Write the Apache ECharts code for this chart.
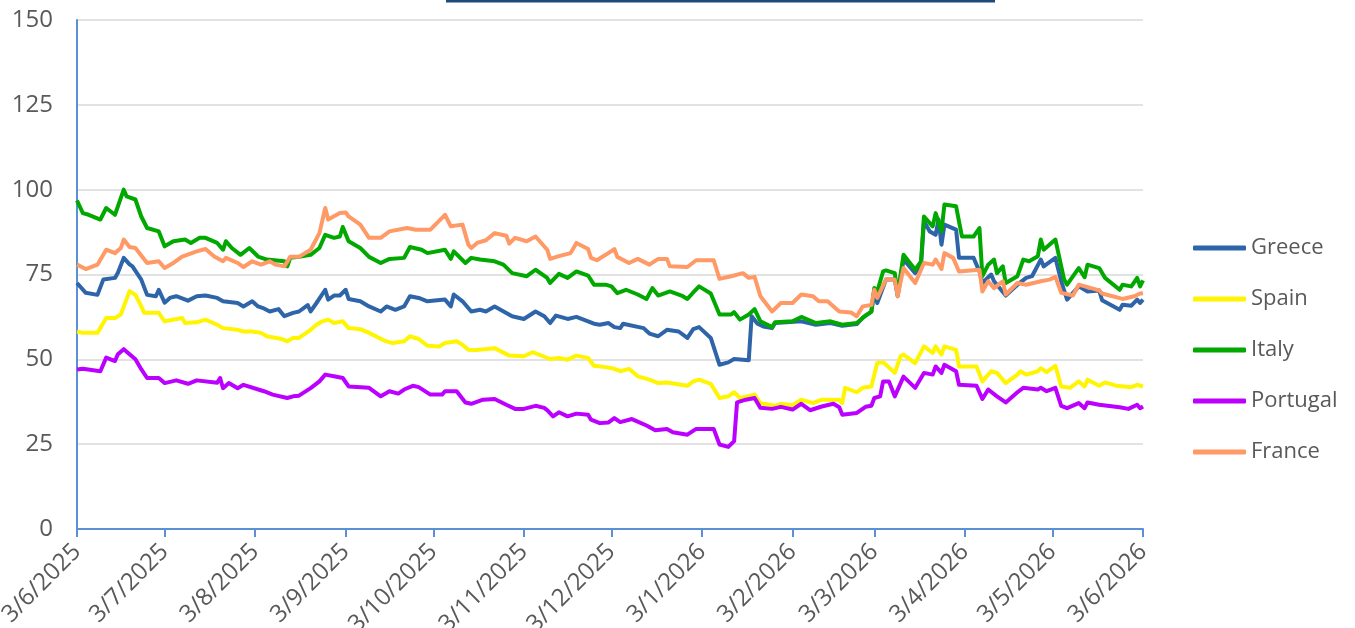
<!DOCTYPE html>
<html>
<head>
<meta charset="utf-8">
<title>Bond yields</title>
<script src="https://cdn.jsdelivr.net/npm/echarts@6/dist/echarts.min.js"></script>
<style>
    html, body { margin: 0; padding: 0; background: #ffffff; }
    #chart { width: 1355px; height: 628px; }
</style>
</head>
<body>
<div id="chart"></div>
<script>
// First day of the series (3 June 2025), values are keyed by day offset from it
const START = Date.UTC(2025, 5, 3);
const DAY = 86400000;

// Day offsets of the monthly axis labels (the 3rd of each month)
const tickDays = [0, 30, 61, 92, 122, 153, 183, 214, 245, 273, 304, 334, 365];

const seriesNames = ['Greece', 'Spain', 'Italy', 'Portugal', 'France'];
const seriesColors = ['#2E64A8', '#FFF500', '#00A800', '#BB00FF', '#FF9966'];

// [day offset, value]
const greece = [[0,72.5],[3,69.6],[7,69],[9,73.5],[13,74],[14,75.5],[16,79.9],[18,78],[19,77.4],[22,73.5],[24,69],[27,68.6],[28,70.5],[30,66.7],[32,68.2],[34,68.6],[38,67.3],[41,68.6],[44,68.8],[48,68.1],[50,67.1],[55,66.6],[57,65.6],[60,67.1],[62,65.6],[64,65],[66,64.1],[69,64.8],[71,62.7],[74,63.7],[76,64.1],[79,66],[80,64.1],[82,66.6],[85,70.5],[86,67.6],[88,68.8],[90,68.8],[92,70.5],[93,67.8],[97,67.1],[100,65.6],[104,64.1],[106,65.6],[109,64.6],[112,65.6],[114,68.6],[117,68.1],[120,67.1],[126,67.6],[128,65.6],[129,69.1],[132,67.1],[135,64.1],[138,64.6],[140,64.1],[143,65.6],[149,62.7],[153,61.9],[157,64.1],[160,62.7],[162,60.7],[164,62.9],[168,61.9],[171,62.5],[175,61.2],[177,60.5],[179,60.2],[182,60.7],[184,59.5],[186,59.2],[187,60.5],[194,59.2],[196,57.6],[199,56.8],[202,58.7],[206,58.2],[209,56.3],[211,58.9],[213,59.5],[217,56.3],[220,48.4],[223,49.1],[225,50.1],[230,49.7],[231,62.7],[233,60.5],[235,59.7],[238,59.2],[239,60.7],[248,61.2],[253,60.2],[258,60.7],[262,59.9],[267,60.4],[269,62.2],[272,64.1],[273,70.5],[274,66.6],[277,73.5],[280,73.5],[281,68.6],[283,79.4],[287,75.4],[289,77.9],[290,90.7],[292,87.7],[294,86.7],[295,91.2],[296,83.8],[297,89.7],[301,88.2],[302,79.9],[307,79.9],[309,75.9],[310,72.5],[313,75],[314,73],[318,68.8],[322,72],[325,74],[327,74.5],[330,79.4],[331,77.4],[335,79.9],[337,73],[339,67.6],[343,71.5],[346,70],[350,70.3],[351,67.4],[357,64.6],[358,66.1],[361,65.8],[363,67.6],[364,66.6],[365,67.6]];

const spain = [[0,58.2],[2,57.8],[7,57.8],[10,62.2],[13,62.2],[15,63.2],[18,70.1],[20,69],[22,65.6],[23,63.7],[28,63.7],[30,61.2],[36,62.2],[37,60.7],[41,60.9],[44,61.7],[48,60.2],[50,59.2],[55,58.7],[57,58.2],[60,58.2],[63,57.8],[65,56.8],[70,56],[72,55.3],[74,56.3],[76,56.3],[80,58.7],[82,60.2],[84,61.2],[86,61.7],[88,60.7],[91,61.2],[93,59.2],[97,58.9],[100,57.8],[105,55.6],[108,54.8],[112,55.3],[114,56.8],[117,56],[120,54],[124,53.8],[126,54.8],[130,55.3],[132,54.3],[134,52.8],[136,52.7],[143,53.3],[148,51.1],[153,50.9],[156,52.1],[162,50.1],[165,50.4],[168,49.9],[171,51.1],[175,50.4],[177,48.1],[181,47.7],[184,47.2],[186,46.5],[189,47.2],[192,45],[196,44],[199,43],[202,43.2],[209,42.2],[211,43.5],[213,44],[217,42.8],[220,38.6],[223,39.1],[225,40.3],[227,38.6],[232,39.6],[234,37.1],[239,36.3],[241,36.9],[245,36.5],[248,38.1],[252,37.1],[255,38.1],[261,38.1],[262,37.1],[263,41.6],[267,40.3],[269,41.6],[272,42],[273,45.5],[274,48.9],[276,49.1],[277,48.4],[280,46],[282,50.9],[283,51.4],[287,48.9],[290,53.8],[293,51.9],[294,53.8],[296,51.4],[297,53.8],[301,52.8],[302,47.9],[308,47.9],[310,43.5],[313,46.5],[315,46],[318,43],[322,45.5],[323,46.5],[325,45.5],[329,46.5],[330,47.4],[332,46.2],[335,48.1],[337,42],[340,41.6],[343,43.5],[345,42],[346,44],[350,42.2],[352,43.2],[356,42.2],[361,41.8],[363,42.5],[365,42]];

const italy = [[0,96.8],[2,93.1],[4,92.6],[8,91.2],[10,94.6],[13,92.6],[14,95.1],[16,100],[17,98],[20,97.1],[22,92.1],[24,88.7],[28,87.7],[30,83.3],[33,84.8],[37,85.3],[39,84.3],[42,85.8],[44,85.8],[48,84.3],[50,82.3],[51,84.8],[53,82.8],[56,80.8],[59,82.8],[62,80.3],[65,79.4],[71,78.9],[72,77.4],[73,79.9],[76,80.2],[80,80.8],[83,82.8],[85,86.7],[88,85.8],[90,86.2],[91,89],[93,84.8],[97,82.8],[100,80.2],[104,78.4],[107,79.6],[112,79.9],[114,83.1],[118,82.3],[120,81.3],[126,82.3],[128,79.6],[129,81.8],[133,78.4],[135,79.9],[138,79.4],[143,78.9],[146,77.9],[149,75.4],[154,74.5],[157,76.4],[161,74],[162,72.5],[165,75.2],[168,74],[171,75.9],[175,74.7],[177,72],[181,72],[183,71.5],[185,69.5],[188,70.5],[192,69.1],[195,67.8],[197,71],[199,68.8],[203,70],[207,68.8],[209,67.8],[211,69.7],[213,71.5],[217,69.4],[220,63.2],[224,63.2],[225,63.9],[227,61.7],[230,63.2],[232,64.8],[234,61.2],[238,59.5],[239,60.9],[245,61.2],[248,62.5],[253,60.7],[258,61.2],[262,60.2],[267,60.7],[270,62.9],[272,64],[273,71],[274,70],[276,75.9],[277,76.2],[280,75.4],[281,69.1],[283,80.8],[287,76.4],[289,78.9],[290,92.1],[293,89.2],[294,93.1],[296,87.7],[297,95.6],[301,95.1],[303,86.2],[307,86.2],[309,88.7],[310,74.5],[312,77.9],[314,79.4],[315,75.4],[317,77.4],[318,72.5],[322,74.5],[324,79.4],[326,78.9],[329,80.4],[330,85.3],[331,82.3],[335,85.3],[338,73.5],[339,72],[343,76.9],[345,74.2],[346,77.9],[350,76.9],[352,74],[357,70.5],[358,72],[361,71.5],[363,74],[364,71.5],[365,73.3]];

const portugal = [[0,47],[2,47.2],[8,46.5],[10,50.5],[13,49.5],[14,51.5],[16,53],[18,51.5],[20,50],[22,47.1],[24,44.5],[28,44.5],[30,43],[34,43.8],[38,42.8],[41,43.8],[48,43.1],[49,44.5],[50,41.5],[52,43],[55,41.5],[57,42.5],[64,40.6],[67,39.6],[72,38.6],[74,39.1],[76,39.3],[80,41.5],[83,43.5],[85,45.5],[88,45],[91,44.5],[93,42],[100,41.6],[104,39.1],[107,40.6],[110,39.9],[112,41.1],[115,42.2],[117,41.8],[121,39.6],[125,39.6],[126,40.6],[130,40.6],[133,37.3],[135,36.9],[139,38.1],[143,38.3],[147,36.6],[150,35.4],[153,35.4],[157,36.3],[160,35.7],[161,35],[163,33.2],[165,34.4],[168,33.2],[171,34],[175,33.7],[176,32.2],[179,31.2],[182,31.4],[184,32.7],[186,31.5],[190,32.4],[195,30.5],[198,29.1],[202,29.5],[204,28.5],[209,27.8],[212,29.5],[218,29.5],[220,24.9],[223,24.2],[225,25.9],[226,37.3],[229,38.1],[232,38.6],[234,35.7],[238,35.4],[241,36],[245,35.2],[248,36.9],[251,35],[255,36.1],[259,36.9],[261,35.9],[262,33.7],[267,34.2],[270,36],[272,36.3],[273,38.6],[275,39.1],[276,43.5],[278,43.5],[280,39.1],[283,44.9],[287,41.6],[290,46],[293,45.5],[294,47.9],[296,46],[297,48.4],[301,46.5],[302,42.5],[308,42.2],[310,38.3],[312,41.1],[315,39.1],[318,37.3],[322,40.3],[324,41.6],[329,41.1],[330,41.6],[332,40.6],[335,41.6],[337,36.3],[339,35.6],[343,37.1],[345,35.6],[346,37.3],[350,36.6],[357,35.9],[360,35.4],[363,36.6],[364,35.6],[365,36.1]];

const france = [[0,77.9],[3,76.6],[7,77.9],[10,82.3],[13,81.3],[15,82.8],[16,85.3],[18,83.1],[20,82.8],[24,78.4],[28,78.9],[30,76.9],[33,78.4],[36,80.3],[41,81.8],[44,82.5],[47,80.3],[50,78.9],[51,79.9],[55,78.4],[57,77.2],[60,78.9],[63,77.9],[66,78.9],[68,77.9],[71,77.4],[73,80.2],[76,80.2],[80,82.3],[83,87.2],[85,94.6],[86,91.2],[90,93.1],[92,93.3],[93,92.1],[97,89.7],[100,85.8],[104,85.8],[107,87.7],[113,88.7],[116,88.2],[121,88.2],[126,92.6],[128,89.2],[132,89.7],[134,83.8],[135,82.8],[137,84.3],[140,85.1],[143,87.2],[147,86.4],[148,84.1],[150,85.8],[154,84.8],[157,86.2],[161,82.3],[162,79.6],[165,80.4],[169,81.3],[171,84.3],[175,82.5],[176,79.9],[178,79.2],[181,80.8],[184,82.5],[185,80.2],[189,78.4],[192,79.6],[196,77.9],[199,79.6],[202,79.6],[203,77.4],[209,77.2],[212,79.2],[218,79.2],[220,73.7],[224,74.5],[228,75.4],[230,74],[232,74.3],[234,68.6],[238,64.1],[241,66.6],[245,66.6],[248,69.1],[252,68.6],[254,67.1],[257,67.1],[261,64.1],[265,63.8],[267,62.7],[269,65.6],[272,66],[273,70.5],[274,68.1],[277,73.5],[280,73.5],[281,68.6],[283,76.9],[287,72.5],[290,78.4],[293,77.9],[294,79.4],[296,76.6],[297,81.3],[300,79.9],[302,75.9],[309,76.4],[310,70],[312,73],[314,71],[317,73],[318,69.1],[322,72.5],[325,72],[330,73],[333,73.5],[335,74.3],[337,69.6],[341,68.8],[343,72],[350,70.3],[351,69.4],[358,67.8],[362,68.6],[364,69.4],[365,69.5]];

const seriesData = [greece, spain, italy, portugal, france];

const FONT = '"Open Sans", "DejaVu Sans", sans-serif';
const TEXT_COLOR = '#595959';
const AXIS_COLOR = '#5B8FD6';

// Format a day offset as the d/m/yyyy date it stands for
function formatDay(day) {
    const d = new Date(START + Math.round(day) * DAY);
    return d.getUTCDate() + '/' + (d.getUTCMonth() + 1) + '/' + d.getUTCFullYear();
}

function buildSeries() {
    return seriesNames.map((name, i) => ({
        name: name,
        type: 'line',
        symbol: 'none',
        data: seriesData[i],
        lineStyle: { color: seriesColors[i], width: 4, join: 'round' },
        itemStyle: { color: seriesColors[i] },
        emphasis: { disabled: true },
        z: 2 + i
    }));
}

const chart = echarts.init(document.getElementById('chart'), null, { renderer: 'canvas' });

const option = {
    animation: false,
    backgroundColor: '#ffffff',
    textStyle: { fontFamily: FONT },
    // keep the plot box where it is even though the rotated labels spill out
    grid: { left: 77, right: 212, top: 20, bottom: 99, containLabel: false, outerBoundsMode: 'none' },
    xAxis: {
        type: 'value',
        min: 0,
        max: 365,
        axisLine: { show: true, lineStyle: { color: AXIS_COLOR, width: 2 } },
        axisTick: {
            show: true,
            length: 8,
            customValues: tickDays,
            lineStyle: { color: AXIS_COLOR, width: 2 }
        },
        axisLabel: {
            customValues: tickDays,
            rotate: 45,
            margin: 19,
            fontSize: 24,
            color: TEXT_COLOR,
            fontFamily: FONT,
            formatter: formatDay,
            hideOverlap: false
        },
        splitLine: { show: false }
    },
    yAxis: {
        type: 'value',
        min: 0,
        max: 150,
        interval: 25,
        axisLine: { show: true, lineStyle: { color: AXIS_COLOR, width: 2 } },
        axisTick: { show: false },
        axisLabel: { margin: 24, fontSize: 24, color: TEXT_COLOR, fontFamily: FONT },
        splitLine: { show: true, lineStyle: { color: '#D9D9D9', width: 1.5 } }
    },
    legend: {
        orient: 'vertical',
        left: 1193,
        top: 237,
        padding: 0,
        icon: 'roundRect',
        itemWidth: 53,
        itemHeight: 5,
        itemGap: 29,
        selectedMode: false,
        textStyle: { fontSize: 22, lineHeight: 22, color: TEXT_COLOR, fontFamily: FONT },
        data: seriesNames
    },
    // dark bar at the very top of the picture (bottom edge of a cut-off title box)
    graphic: [{
        type: 'rect',
        left: 446,
        top: 0,
        shape: { width: 549, height: 2.5 },
        style: { fill: '#1F497D' },
        silent: true
    }],
    series: buildSeries()
};

chart.setOption(option);
</script>
</body>
</html>
